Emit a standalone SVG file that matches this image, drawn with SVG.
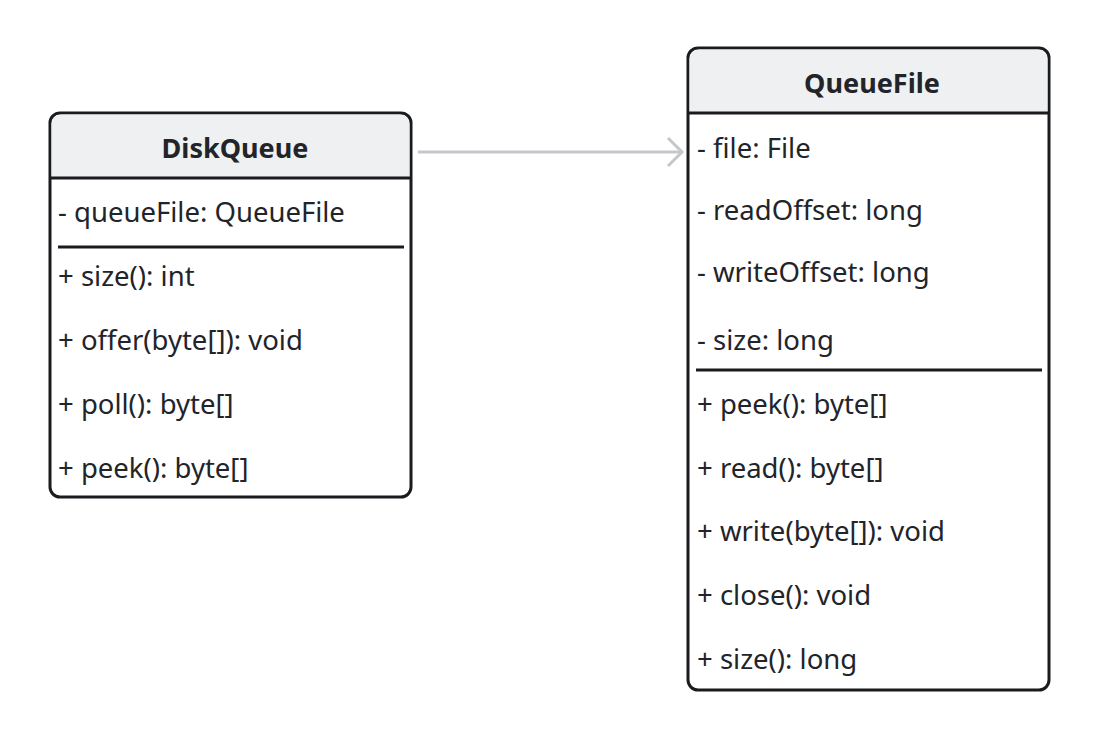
<svg xmlns="http://www.w3.org/2000/svg" width="1098" height="736" viewBox="0 0 1098 736">
<defs>
<style>
.box{fill:#ffffff;stroke:#1b1b1f;stroke-width:3}
.hdr{fill:#eef0f2}
.sep{stroke:#1b1b1f;stroke-width:3}
.t{font-family:"Noto Sans","Open Sans","Liberation Sans",sans-serif;font-size:27.5px;fill:#222429}
.title{font-family:"Noto Sans","Open Sans","Liberation Sans",sans-serif;font-size:27px;font-weight:bold;fill:#222429;text-anchor:middle}
.conn{stroke:#c4c7cc;stroke-width:3;fill:none}
</style>
<marker id="arr" markerWidth="24" markerHeight="34" refX="16" refY="16" orient="auto" markerUnits="userSpaceOnUse">
<path d="M2,2 L16,16 L2,30" fill="none" stroke="#c4c7cc" stroke-width="3"/>
</marker>
</defs>
<rect width="1098" height="736" fill="#ffffff"/>
<g id="connectors">
<line class="conn" x1="418" y1="152" x2="682" y2="152" marker-end="url(#arr)"/>
</g>
<g id="DiskQueue">
<rect class="box" x="50" y="113" width="361" height="384" rx="10"/>
<path class="hdr" d="M61.5,114.5 H399.5 A10,10 0 0 1 409.5,124.5 V177 H51.5 V124.5 A10,10 0 0 1 61.5,114.5 Z"/>
<line class="sep" x1="51" y1="178" x2="410" y2="178"/>
<line class="sep" x1="58" y1="247" x2="404" y2="247"/>
<text class="title" x="235" y="158">DiskQueue</text>
<text class="t" x="58" y="222">- queueFile: QueueFile</text>
<text class="t" x="58" y="286">+ size(): int</text>
<text class="t" x="58" y="350">+ offer(byte[]): void</text>
<text class="t" x="58" y="414">+ poll(): byte[]</text>
<text class="t" x="58" y="478">+ peek(): byte[]</text>
</g>
<g id="QueueFile">
<rect class="box" x="688" y="48" width="361" height="642" rx="10"/>
<path class="hdr" d="M699.5,49.5 H1037.5 A10,10 0 0 1 1047.5,59.5 V112 H689.5 V59.5 A10,10 0 0 1 699.5,49.5 Z"/>
<line class="sep" x1="689" y1="113" x2="1048" y2="113"/>
<line class="sep" x1="696" y1="370" x2="1042" y2="370"/>
<text class="title" x="872" y="93">QueueFile</text>
<text class="t" x="697" y="158">- file: File</text>
<text class="t" x="697" y="220">- readOffset: long</text>
<text class="t" x="697" y="282">- writeOffset: long</text>
<text class="t" x="697" y="350">- size: long</text>
<text class="t" x="697" y="414">+ peek(): byte[]</text>
<text class="t" x="697" y="478">+ read(): byte[]</text>
<text class="t" x="697" y="541">+ write(byte[]): void</text>
<text class="t" x="697" y="605">+ close(): void</text>
<text class="t" x="697" y="669">+ size(): long</text>
</g>
</svg>
